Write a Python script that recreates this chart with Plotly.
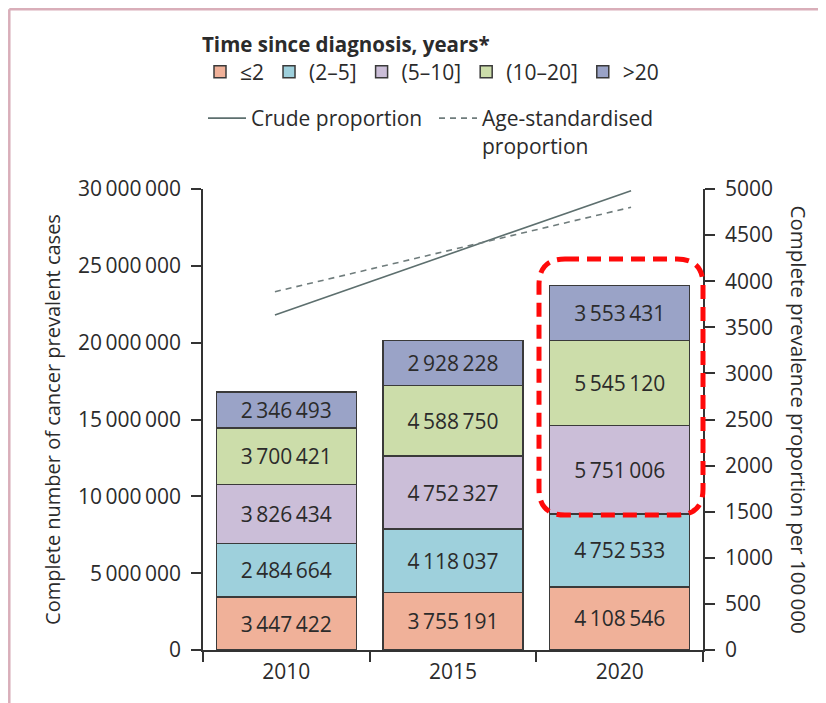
import plotly.graph_objects as go

# ---------------- data ----------------
years = ["2010", "2015", "2020"]
series_names = ["≤2", "(2–5]", "(5–10]", "(10–20]", ">20"]
series_colors = ["#F0B199", "#9ED0DC", "#CBBED8", "#CCDDAA", "#9AA3C7"]

# printed segment labels
lab_le2 = [3447422, 3755191, 4108546]
lab_2_5 = [2484664, 4118037, 4752533]
lab_5_10 = [3826434, 4752327, 5751006]
lab_10_20 = [3700421, 4588750, 5545120]
lab_gt20 = [2346493, 2928228, 3553431]

# segment heights as drawn in the picture (2010 (2–5] is drawn ~3.48 M tall)
h_le2 = [3447422, 3755191, 4108546]
h_2_5 = [3484664, 4118037, 4752533]
h_5_10 = [3826434, 4752327, 5751006]
h_10_20 = [3700421, 4588750, 5545120]
h_gt20 = [2346493, 2928228, 3553431]

line_years = [2010, 2015, 2020]
crude = [3634, 4306, 4982]
age_std = [3886, 4344, 4802]

left_tickvals = [0, 5000000, 10000000, 15000000, 20000000, 25000000, 30000000]
right_tickvals = [0, 500, 1000, 1500, 2000, 2500, 3000, 3500, 4000, 4500, 5000]

heights = [h_le2, h_2_5, h_5_10, h_10_20, h_gt20]
labels = [lab_le2, lab_2_5, lab_5_10, lab_10_20, lab_gt20]


def fmt(n):
    return f"{n:,}".replace(",", "\u2009")


FONT = "Open Sans"
AX = "#333333"
TXT = "#2b2b2b"

# page body has an 8px margin: figure drawn 8px in from the window's top-left
OFF = 8
W, H = 826 - OFF, 703 - OFF
ML, MT = 203 - OFF, 189 - OFF
PW, PH = 500, 461
MR, MB = W - ML - PW, H - MT - PH


def px(xs):
    """screen x (window px) -> paper x"""
    return (xs - OFF - ML) / PW


def py(ys):
    """screen y (window px) -> paper y"""
    return (MT + PH - (ys - OFF)) / PH


fig = go.Figure()

for name, col, hv, lv in zip(series_names, series_colors, heights, labels):
    fig.add_trace(go.Bar(
        x=years, y=hv, name=name,
        marker=dict(color=col, line=dict(color="#3a3a3a", width=1.5)),
        text=[fmt(v) for v in lv], textposition="inside", insidetextanchor="middle",
        textfont=dict(family=FONT, size=21, color=TXT), textangle=0,
        legend="legend", hoverinfo="skip",
    ))

fig.add_trace(go.Scatter(
    x=line_years, y=crude, mode="lines", name="Crude proportion",
    line=dict(color="#5d6f6e", width=1.6), xaxis="x2", yaxis="y2", legend="legend2",
))
fig.add_trace(go.Scatter(
    x=line_years, y=age_std, mode="lines", name="Age-standardised<br>proportion",
    line=dict(color="#6f7c7c", width=1.6, dash="6px,5px"), xaxis="x2", yaxis="y2", legend="legend2",
))

axis_common = dict(showline=True, linecolor=AX, linewidth=1.5, ticks="outside", ticklen=10,
                   tickwidth=1.5, tickcolor=AX, showgrid=False, zeroline=False,
                   tickfont=dict(family=FONT, size=21, color=TXT))

fig.update_layout(
    width=W, height=H,
    margin=dict(l=ML, r=MR, t=MT, b=MB, pad=0, autoexpand=False),
    paper_bgcolor="white", plot_bgcolor="white",
    barmode="stack", bargap=0.16,
    font=dict(family=FONT, size=20, color=TXT),
    xaxis=dict(type="category", tickson="boundaries", range=[-0.5, 2.5], ticklabelstandoff=2,
               **axis_common),
    xaxis2=dict(overlaying="x", range=[2007.98, 2022.02], visible=False, anchor="y2"),
    yaxis=dict(range=[0, 30000000], tickvals=left_tickvals,
               ticktext=[fmt(v) for v in left_tickvals], ticklabelstandoff=6,
               title=dict(text="Complete number of cancer prevalent cases", standoff=12,
                          font=dict(family=FONT, size=20, color=TXT)),
               **axis_common),
    yaxis2=dict(overlaying="y", side="right", anchor="x", range=[0, 5000],
                tickvals=right_tickvals, ticklabelstandoff=6, **axis_common),
    legend=dict(orientation="h", x=px(200), xanchor="left", y=py(25), yanchor="top",
                traceorder="normal", bgcolor="rgba(0,0,0,0)",
                font=dict(family=FONT, size=21, color=TXT),
                title=dict(text="<b>Time since diagnosis, years*</b>", side="top",
                           font=dict(family=FONT, size=20.5, color=TXT))),
    legend2=dict(orientation="h", x=px(203), xanchor="left", y=py(98), yanchor="top",
                 traceorder="normal", bgcolor="rgba(0,0,0,0)", valign="top",
                 itemwidth=38, entrywidth=178, entrywidthmode="pixels",
                 font=dict(family=FONT, size=21, color=TXT)),
    showlegend=True,
)

# right axis title (reads top-to-bottom)
fig.add_annotation(text="Complete prevalence proportion per 100\u2009000",
                   x=px(799), y=0.5, xref="paper", yref="paper", textangle=90,
                   showarrow=False, xanchor="center", yanchor="middle",
                   font=dict(family=FONT, size=20.5, color=TXT))

# highlight box around the top of the 2020 bar
x0, x1, y0, y1, r = 539, 703, 259, 515, 26
path = (f"M {px(x0 + r)},{py(y0)} L {px(x1 - r)},{py(y0)} Q {px(x1)},{py(y0)} {px(x1)},{py(y0 + r)} "
        f"L {px(x1)},{py(y1 - r)} Q {px(x1)},{py(y1)} {px(x1 - r)},{py(y1)} "
        f"L {px(x0 + r)},{py(y1)} Q {px(x0)},{py(y1)} {px(x0)},{py(y1 - r)} "
        f"L {px(x0)},{py(y0 + r)} Q {px(x0)},{py(y0)} {px(x0 + r)},{py(y0)} Z")
fig.add_shape(type="path", path=path, xref="paper", yref="paper",
              line=dict(color="#ff0a0a", width=5, dash="14px,8px"), layer="above")

# page frame (pink rule top and left)
frame = "#d9aeb9"
fig.add_shape(type="line", xref="paper", yref="paper", x0=px(9.3), y0=py(9.3), x1=px(830), y1=py(9.3),
              line=dict(color=frame, width=2.5))
fig.add_shape(type="line", xref="paper", yref="paper", x0=px(9.3), y0=py(9.3), x1=px(9.3), y1=py(710),
              line=dict(color=frame, width=2.5))

fig.write_html("out.html")
